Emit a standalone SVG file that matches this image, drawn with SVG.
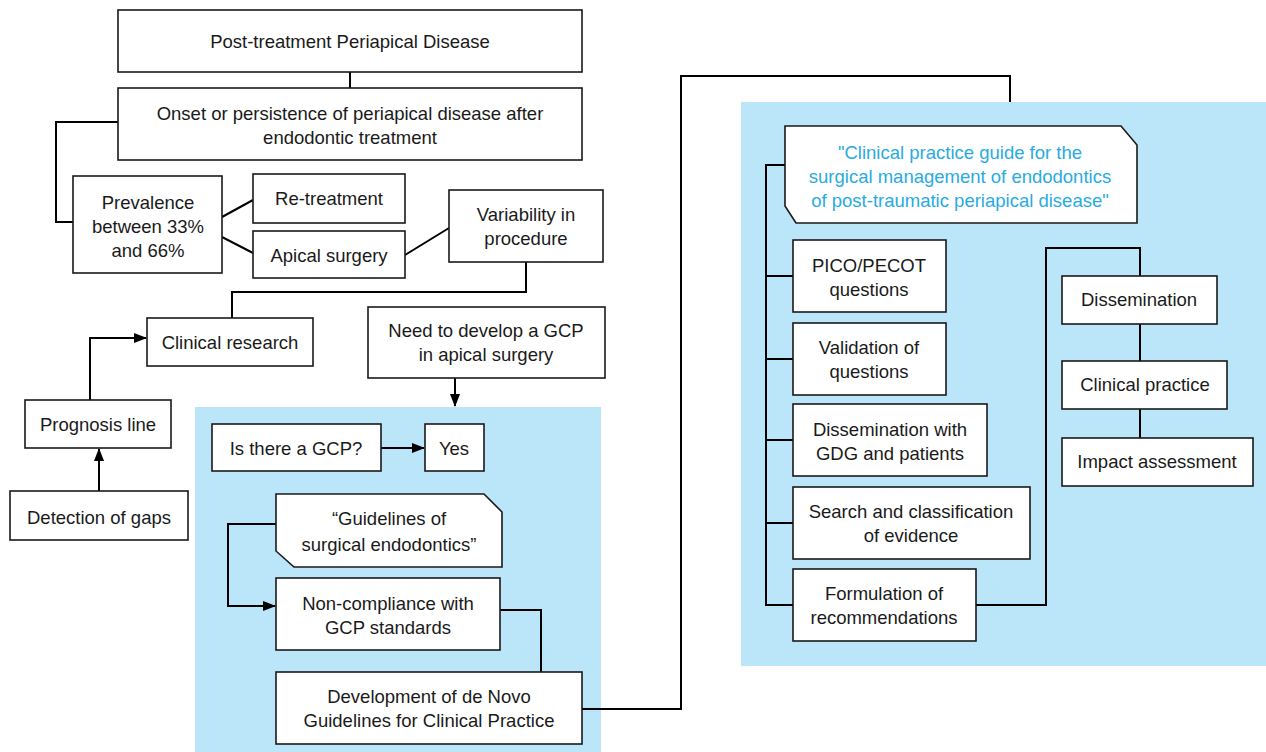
<svg xmlns="http://www.w3.org/2000/svg" width="1266" height="752" viewBox="0 0 1266 752">
<style>
.box{fill:#fff;stroke:#1a1a1a;stroke-width:1.6}
.t{font-family:"Liberation Sans",Arial,sans-serif;font-size:18.5px;fill:#1a1a1a;text-anchor:middle}
.c{font-family:"Liberation Sans",Arial,sans-serif;font-size:18.5px;fill:#29abe2;text-anchor:middle}
.ln{fill:none;stroke:#000;stroke-width:2}
.panel{fill:#bbe5f8}
</style>
<defs>
<marker id="ah" markerWidth="13" markerHeight="10" refX="12" refY="5" orient="auto" markerUnits="userSpaceOnUse">
<path d="M0,0 L13,5 L0,10 Z" fill="#000"/>
</marker>
</defs>
<rect width="1266" height="752" fill="#fff"/>
<rect class="panel" x="195" y="407" width="406" height="345"/>
<rect class="panel" x="741" y="102" width="525" height="564"/>
<g id="connectors">
<path class="ln" d="M350,72 V88"/>
<path class="ln" d="M118,122 H56 V222 H73"/>
<path class="ln" d="M222,217 L253,200"/>
<path class="ln" d="M222,237 L253,253"/>
<path class="ln" d="M405,255 L449,228"/>
<path class="ln" d="M526,262 V292 H232 V318"/>
<path class="ln" d="M90,400 V338 H146" marker-end="url(#ah)"/>
<path class="ln" d="M99,491 V449" marker-end="url(#ah)"/>
<path class="ln" d="M455,378 V406" marker-end="url(#ah)"/>
<path class="ln" d="M381,448 H424" marker-end="url(#ah)"/>
<path class="ln" d="M276,524 H228 V606 H275" marker-end="url(#ah)"/>
<path class="ln" d="M500,610 H541 V672"/>
<path class="ln" d="M582,709 H681 V76 H1010 V102"/>
<path class="ln" d="M785,165 H766 V605 H793"/>
<path class="ln" d="M766,276 H793 M766,359 H793 M766,440 H793 M766,523 H793"/>
<path class="ln" d="M976,605 H1046 V248 H1140 V276"/>
<path class="ln" d="M1140,324 V361 M1140,409 V438"/>
</g>
<g id="n1"><rect class="box" x="118" y="10" width="464" height="62"/><text class="t" x="350" y="48">Post-treatment Periapical Disease</text></g>
<g id="n2"><rect class="box" x="118" y="88" width="464" height="72"/><text class="t" x="350" y="120">Onset or persistence of periapical disease after</text><text class="t" x="350" y="144">endodontic treatment</text></g>
<g id="n3"><rect class="box" x="73" y="176" width="149" height="97"/><text class="t" x="148" y="209">Prevalence</text><text class="t" x="148" y="233">between 33%</text><text class="t" x="148" y="257">and 66%</text></g>
<g id="n4"><rect class="box" x="253" y="174" width="152" height="49"/><text class="t" x="329" y="205">Re-treatment</text></g>
<g id="n5"><rect class="box" x="253" y="231" width="152" height="47"/><text class="t" x="329" y="262">Apical surgery</text></g>
<g id="n6"><rect class="box" x="449" y="190" width="154" height="72"/><text class="t" x="526" y="221">Variability in</text><text class="t" x="526" y="245">procedure</text></g>
<g id="n7"><rect class="box" x="147" y="318" width="166" height="48"/><text class="t" x="230" y="349">Clinical research</text></g>
<g id="n8"><rect class="box" x="25" y="400" width="146" height="48"/><text class="t" x="98" y="431">Prognosis line</text></g>
<g id="n9"><rect class="box" x="10" y="491" width="178" height="49"/><text class="t" x="99" y="524">Detection of gaps</text></g>
<g id="n10"><rect class="box" x="368" y="307" width="237" height="71"/><text class="t" x="486" y="337">Need to develop a GCP</text><text class="t" x="486" y="361">in apical surgery</text></g>
<g id="n11"><rect class="box" x="212" y="424" width="169" height="47"/><text class="t" x="296" y="455">Is there a GCP?</text></g>
<g id="n12"><rect class="box" x="425" y="424" width="59" height="47"/><text class="t" x="454" y="455">Yes</text></g>
<g id="n13"><path class="box" d="M276,494 H484 L502,512 V567 H294 L276,551 Z"/><text class="t" x="389" y="525">“Guidelines of</text><text class="t" x="389" y="551">surgical endodontics”</text></g>
<g id="n14"><rect class="box" x="276" y="578" width="224" height="72"/><text class="t" x="388" y="610">Non-compliance with</text><text class="t" x="388" y="634">GCP standards</text></g>
<g id="n15"><rect class="box" x="276" y="672" width="306" height="72"/><text class="t" x="429" y="703">Development of de Novo</text><text class="t" x="429" y="727">Guidelines for Clinical Practice</text></g>
<g id="n16"><path class="box" d="M785,126 H1121 L1137,145 V223 H796 L785,206 Z"/><text class="c" x="960" y="159">"Clinical practice guide for the</text><text class="c" x="960" y="183">surgical management of endodontics</text><text class="c" x="960" y="207">of post-traumatic periapical disease"</text></g>
<g id="n17"><rect class="box" x="793" y="240" width="153" height="72"/><text class="t" x="869" y="272">PICO/PECOT</text><text class="t" x="869" y="296">questions</text></g>
<g id="n18"><rect class="box" x="793" y="323" width="153" height="72"/><text class="t" x="869" y="354">Validation of</text><text class="t" x="869" y="378">questions</text></g>
<g id="n19"><rect class="box" x="793" y="404" width="194" height="72"/><text class="t" x="890" y="436">Dissemination with</text><text class="t" x="890" y="460">GDG and patients</text></g>
<g id="n20"><rect class="box" x="793" y="487" width="237" height="72"/><text class="t" x="911" y="518">Search and classification</text><text class="t" x="911" y="542">of evidence</text></g>
<g id="n21"><rect class="box" x="793" y="569" width="183" height="72"/><text class="t" x="884" y="600">Formulation of</text><text class="t" x="884" y="624">recommendations</text></g>
<g id="n22"><rect class="box" x="1062" y="276" width="155" height="48"/><text class="t" x="1139" y="306">Dissemination</text></g>
<g id="n23"><rect class="box" x="1062" y="361" width="165" height="48"/><text class="t" x="1145" y="391">Clinical practice</text></g>
<g id="n24"><rect class="box" x="1062" y="438" width="191" height="48"/><text class="t" x="1157" y="468">Impact assessment</text></g>
</svg>
